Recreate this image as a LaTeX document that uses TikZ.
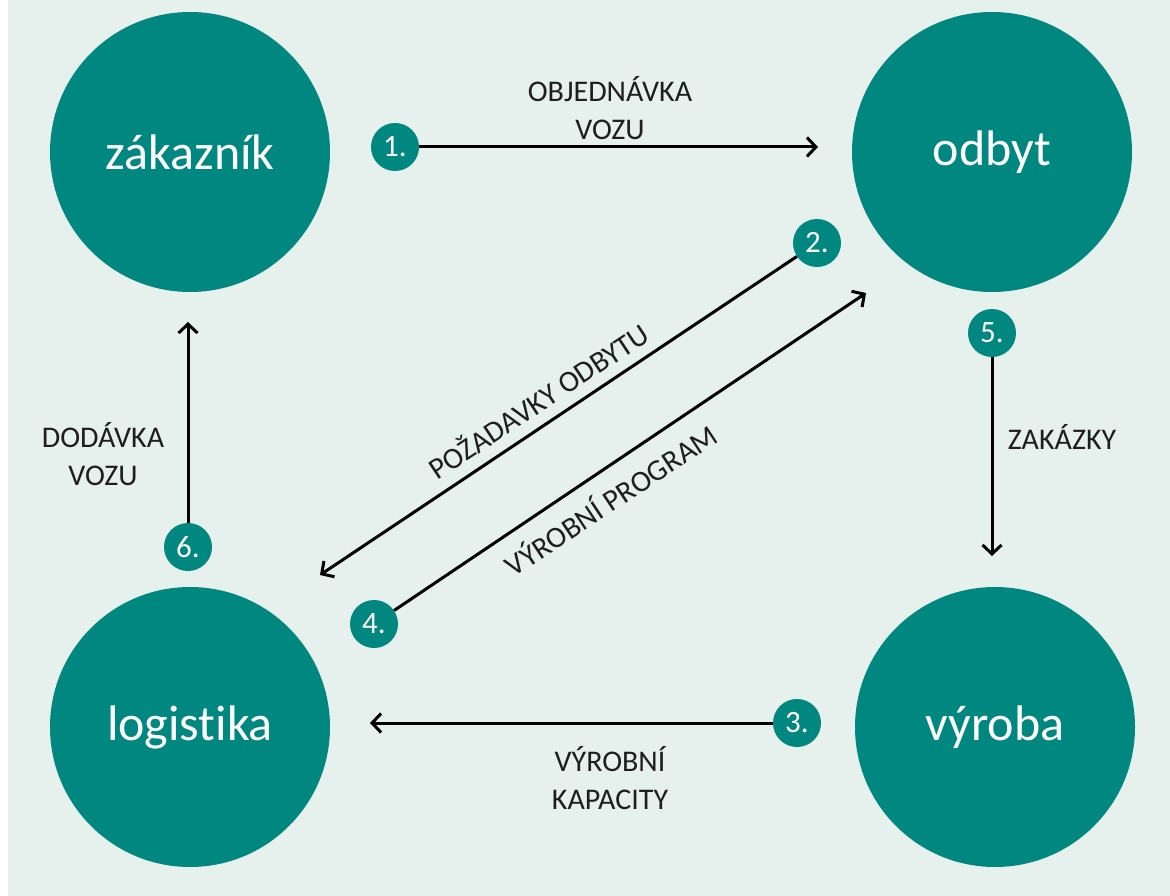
\documentclass[tikz,border=0pt]{standalone}
\usepackage{fontspec}
\setmainfont{Carlito}[Ligatures={NoCommon}]
\usetikzlibrary{arrows.meta}
\definecolor{tealc}{HTML}{00877F}
\definecolor{bgc}{HTML}{E6F0ED}
\definecolor{txtc}{HTML}{1E1E1E}
\begin{document}
\begin{tikzpicture}[x=1pt,y=-1pt,
 big/.style={circle,fill=tealc,minimum size=280pt,inner sep=0pt,text=white,font=\fontsize{50}{60}\selectfont},
 badge/.style={circle,fill=tealc,minimum size=48pt,inner sep=0pt,text=white,font=\fontsize{31}{34}\selectfont},
 lbl/.style={font=\fontsize{30}{38}\selectfont,align=center,text=txtc},
 flow/.style={line width=3pt,-{Straight Barb[length=9pt,width=19pt,line width=3pt]}}]
\useasboundingbox (0,0) rectangle (1170,896);
\fill[white] (0,0) rectangle (1170,896);
\fill[bgc] (8,0) rectangle (1170,896);
% main circles
\node[big] (zak) at (190,152) {zákazník};
\node[big] (odb) at (992,152) {odbyt};
\node[big] (log) at (190,727) {logistika};
\node[big] (vyr) at (995,727) {výroba};
% badges
\node[badge] (b1) at (395,147) {1.};
\node[badge] (b2) at (817,243) {2.};
\node[badge] (b3) at (797,723) {3.};
\node[badge] (b4) at (374,624) {4.};
\node[badge] (b5) at (992,333) {5.};
\node[badge] (b6) at (188,547) {6.};
% arrow ends
\coordinate (e1) at (818,147);
\coordinate (e2) at (320,575);
\coordinate (e3) at (370,723);
\coordinate (e4) at (866,293);
\coordinate (e5) at (992,556);
\coordinate (e6) at (188,322);
% connectors
\draw[flow] (b1) -- (e1);
\draw[flow] (b2) -- (e2);
\draw[flow] (b3) -- (e3);
\draw[flow] (b4) -- (e4);
\draw[flow] (b5) -- (e5);
\draw[flow] (b6) -- (e6);
% labels
\node[lbl] (l1) at (610,108) {OBJEDNÁVKA\\VOZU};
\node[lbl,rotate=33.5] (l2) at (538,400) {POŽADAVKY ODBYTU};
\node[lbl] (l3) at (610,778) {VÝROBNÍ\\KAPACITY};
\node[lbl,rotate=33.5] (l4) at (610,499) {VÝROBNÍ PROGRAM};
\node[lbl] (l5) at (1062,437) {ZAKÁZKY};
\node[lbl] (l6) at (103,454) {DODÁVKA\\VOZU};
\end{tikzpicture}
\end{document}
